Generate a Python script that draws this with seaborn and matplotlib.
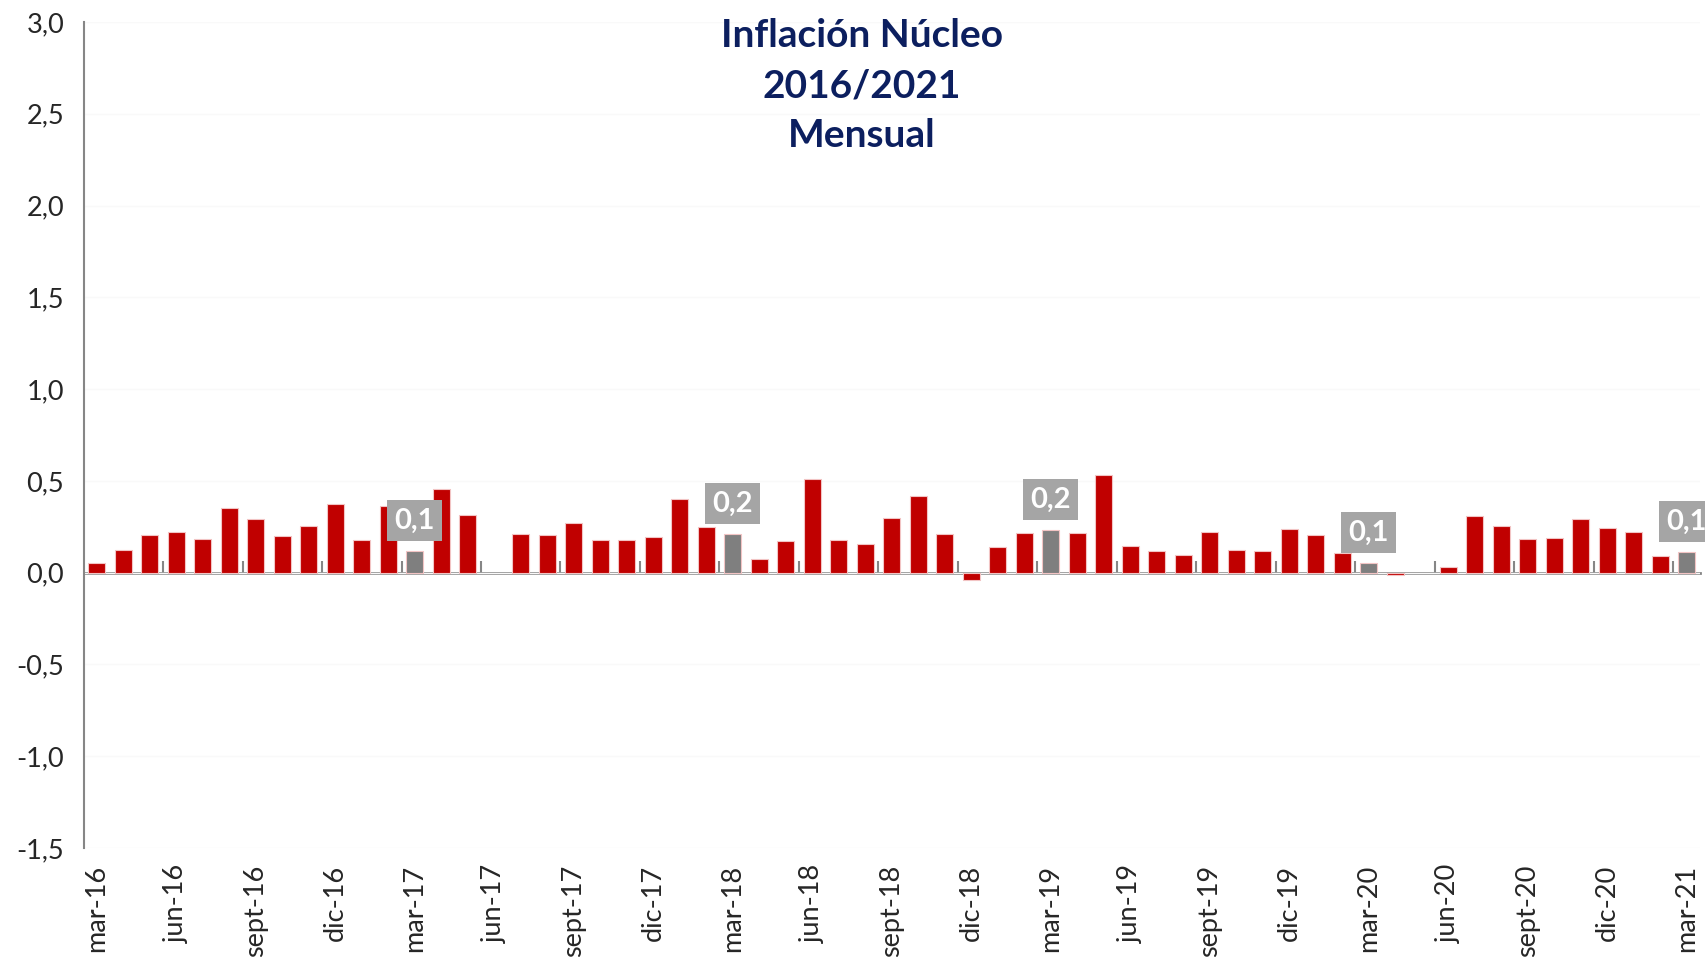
import matplotlib
matplotlib.use("Agg")
import matplotlib.pyplot as plt
import numpy as np
import pandas as pd
import seaborn as sns
from matplotlib.ticker import FuncFormatter

# meses de mar-16 a mar-21
nombres_mes = ["ene", "feb", "mar", "abr", "may", "jun",
               "jul", "ago", "sept", "oct", "nov", "dic"]
meses = [f"{nombres_mes[(2 + i) % 12]}-{16 + (2 + i) // 12}" for i in range(61)]

# variación mensual (%), NaN = sin dato en el gráfico
valores = [
    0.053, 0.122, 0.207, 0.223, 0.185, 0.352, 0.294, 0.198, 0.252, 0.376,
    0.176, 0.361, 0.116, 0.458, 0.312, np.nan, 0.209, 0.203, 0.272, 0.180,
    0.176, 0.194, 0.401, 0.247, 0.209, 0.076, 0.171, 0.512, 0.176, 0.158,
    0.300, 0.419, 0.212, -0.042, 0.142, 0.218, 0.231, 0.218, 0.532, 0.147,
    0.116, 0.098, 0.221, 0.125, 0.120, 0.236, 0.207, 0.105, 0.051, -0.013,
    np.nan, 0.033, 0.307, 0.256, 0.183, 0.191, 0.290, 0.245, 0.220, 0.093,
    0.111,
]
titulo = ["Inflación Núcleo", "2016/2021", "Mensual"]

ROJO = "#c00000"
GRIS = "#7f7f7f"
GRIS_ETIQ = "#a5a5a5"
AZUL = "#0c1f5f"
EJE = "#868686"

df = pd.DataFrame({"mes": meses, "valor": valores})
df["tipo"] = np.where(df["mes"].str.startswith("mar") & (df["mes"] != "mar-16"),
                      "marzo", "otro")

sns.set_style("white")
plt.rcParams["font.family"] = ["Lato", "DejaVu Sans"]

fig = plt.figure(figsize=(17.05, 9.57), dpi=100)
ax = fig.add_axes([0.049, 0.114, 0.948, 0.863])

sns.barplot(data=df, x="mes", y="valor", hue="tipo", order=meses,
            palette={"otro": ROJO, "marzo": GRIS}, dodge=False, width=0.64,
            saturation=1, edgecolor="#f2c4c4", linewidth=0.8, legend=False, ax=ax)

ax.set_xlim(-0.5, len(meses) - 0.5)
ax.set_ylim(-1.5, 3.0)
ax.set_yticks(np.arange(-1.5, 3.01, 0.5))
ax.yaxis.set_major_formatter(FuncFormatter(lambda v, _: f"{v:.1f}".replace(".", ",")))
ax.yaxis.grid(True, color="#f9f9f9", lw=1)
ax.set_axisbelow(True)

idx = np.arange(0, len(meses), 3)
ax.set_xticks(idx, [meses[i] for i in idx], rotation=90)
ax.tick_params(axis="x", length=0, pad=12, labelsize=19.5)
ax.tick_params(axis="y", length=8, width=1.2, color=EJE, pad=6, labelsize=19.5)
ax.set_xlabel("")
ax.set_ylabel("")

for s in ["top", "right", "bottom"]:
    ax.spines[s].set_visible(False)
ax.spines["left"].set_color(EJE)
ax.spines["left"].set_linewidth(1.5)

# eje horizontal en cero con marcas entre trimestres
cero = ax.secondary_xaxis(1 / 3)
cero.set_xticks(np.arange(2.5, len(meses), 3), labels=[])
cero.tick_params(direction="in", length=9, width=1.5, color=EJE)
cero.spines["bottom"].set_color(EJE)
cero.spines["bottom"].set_linewidth(2)

# etiquetas de marzo
for i, fila in df[df["tipo"] == "marzo"].iterrows():
    ax.annotate(f"{fila['valor']:.1f}".replace(".", ","),
                xy=(i, fila["valor"]), xytext=(0, 22), textcoords="offset points",
                ha="center", va="center", fontsize=21, fontweight="bold",
                color="white", annotation_clip=False,
                bbox=dict(boxstyle="square,pad=0.25", fc=GRIS_ETIQ, ec="none"))

for k, linea in enumerate(titulo):
    fig.text(0.5056, 0.963 - k * 0.0525, linea, ha="center", va="center",
             fontsize=28, fontweight="bold", color=AZUL)

fig.savefig("out.png", dpi=100)
